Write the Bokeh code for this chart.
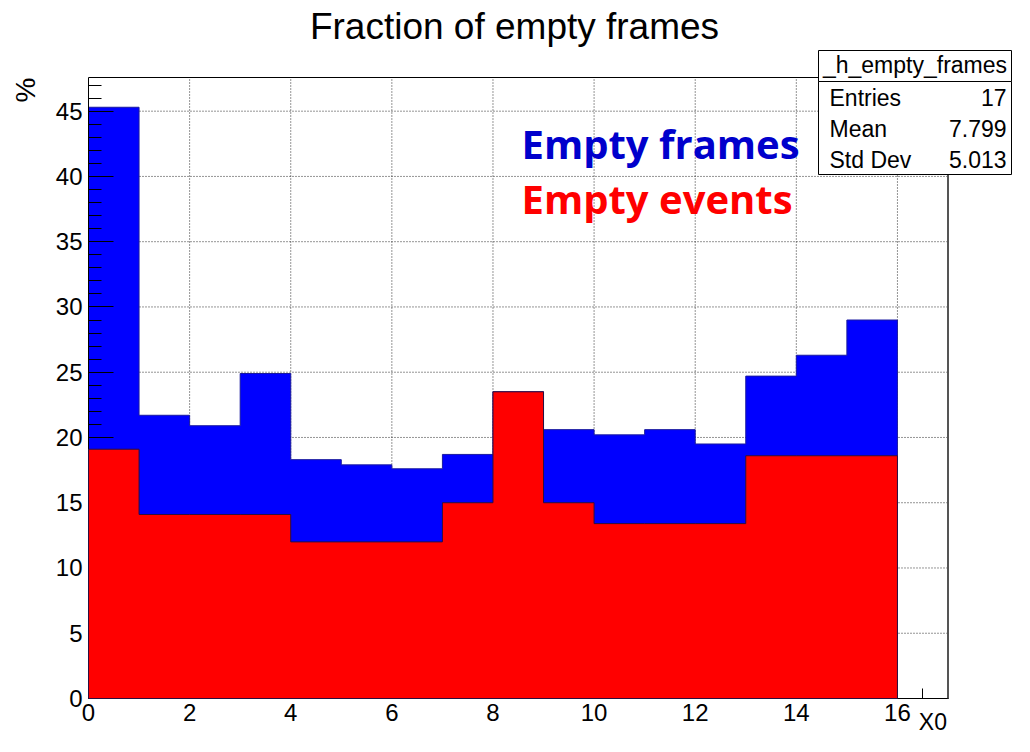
from bokeh.plotting import figure
from bokeh.models import SingleIntervalTicker, Label, BoxAnnotation, Range1d, Title
from bokeh.embed import file_html
from bokeh.resources import INLINE

# ---------------- data ----------------
bin_edges = list(range(0, 18))
empty_frames = [45.3, 21.7, 20.9, 24.9, 18.3, 17.9, 17.6, 18.7, 23.5,
                20.6, 20.2, 20.6, 19.5, 24.7, 26.3, 29.0, 0.0]
empty_events = [19.1, 14.1, 14.1, 14.1, 12.0, 12.0, 12.0, 15.0, 23.5,
                15.0, 13.4, 13.4, 13.4, 18.6, 18.6, 18.6, 0.0]
x_major_ticks = list(range(0, 17, 2))
y_major_ticks = list(range(0, 46, 5))
x_axis_max = 17.0
y_axis_max = 47.58
title_text = "Fraction of empty frames"
x_title = "X0"
y_title = "%"
hist_name = "_h_empty_frames"
stat_names = ["Entries", "Mean", "Std Dev"]
stat_values = ["17", "7.799", "5.013"]
legend_texts = ["Empty frames", "Empty events"]
legend_colors = ["#0000cc", "#ff0000"]

# ---------------- layout (pixels) ----------------
W, H = 1014, 736
FL, FB = 88, 698            # left / bottom of plotting frame on the canvas
ROOT_R, ROOT_T = 947.5, 77  # right / top of the histogram box on the canvas
FONT = "Liberation Sans"


def rx(px):
    return px - FL


def ly(baseline_py, size):
    # screen-unit y (from frame bottom) for a label whose baseline sits at baseline_py
    return FB - (baseline_py - 0.36 * size)


x_end = x_axis_max * (W - FL) / (ROOT_R - FL)
y_end = y_axis_max * FB / (FB - ROOT_T)

p = figure(width=W, height=H, output_backend="svg", toolbar_location=None,
           x_range=Range1d(0, x_end), y_range=Range1d(0, y_end),
           min_border_left=FL, min_border_right=0,
           min_border_top=0, min_border_bottom=H - FB)
p.title.visible = False
p.background_fill_color = "white"
p.border_fill_color = "white"
p.outline_line_color = None
p.xgrid.visible = False
p.ygrid.visible = False

# dotted grid (under the histograms)
gv = p.segment(x0=x_major_ticks, y0=0, x1=x_major_ticks, y1=y_axis_max,
               line_color="#2a2a2a", line_dash="1 2", line_width=1)
gh = p.segment(x0=0, y0=y_major_ticks, x1=x_axis_max, y1=y_major_ticks,
               line_color="#2a2a2a", line_dash="1 2", line_width=1)
gv.level = "underlay"
gh.level = "underlay"


def outline(edges, vals):
    xs, ys = [edges[0]], [0.0]
    for i, v in enumerate(vals):
        xs += [edges[i], edges[i + 1]]
        ys += [v, v]
    xs.append(edges[-1])
    ys.append(0.0)
    return xs, ys


# blue histogram
bx, by = outline(bin_edges, empty_frames)
p.patch(bx, by, fill_color="#0000ff", line_color="#1a1aa0", line_width=1)

# histogram box border
p.add_layout(BoxAnnotation(left=0, right=x_axis_max, bottom=0, top=y_axis_max,
                           fill_color=None, fill_alpha=0, line_color="black",
                           line_alpha=1.0, line_width=1))
p.add_layout(BoxAnnotation(left=x_axis_max, right=x_axis_max, bottom=0, top=y_axis_max,
                           fill_color=None, fill_alpha=0, line_color="#555555",
                           line_alpha=1.0, line_width=2))

# red histogram (drawn above the axes, like the reference)
rxs, rys = outline(bin_edges[:-1], empty_events[:-1])
rp = p.patch(rxs, rys, fill_color="#ff0000", line_color="#2a1040", line_width=1)
rp.level = "overlay"

# axes
p.xaxis.ticker = SingleIntervalTicker(interval=2, num_minor_ticks=4)
p.yaxis.ticker = SingleIntervalTicker(interval=5, num_minor_ticks=5)
p.xaxis.bounds = (0, x_axis_max)
p.yaxis.bounds = (0, y_axis_max)
for ax in (p.xaxis, p.yaxis):
    ax.axis_line_color = "black"
    ax.major_tick_line_color = "black"
    ax.minor_tick_line_color = "black"
    ax.major_tick_out = 0
    ax.minor_tick_out = 0
    ax.major_label_text_font = FONT
    ax.major_label_text_font_size = "24px"
    ax.major_label_text_color = "black"
p.xaxis.major_tick_in = 19
p.xaxis.minor_tick_in = 10
p.yaxis.major_tick_in = 25
p.yaxis.minor_tick_in = 13
p.xaxis.major_label_standoff = 5
p.yaxis.major_label_standoff = 6

# axis titles (side panels)
p.add_layout(Title(text=y_title, align="right", vertical_align="top",
                   text_font=FONT, text_font_size="28px",
                   text_font_style="normal", text_color="black",
                   standoff=19, offset=ROOT_T), "left")
p.add_layout(Title(text=x_title, align="right", vertical_align="top",
                   text_font=FONT, text_font_size="23px",
                   text_font_style="normal", text_color="black",
                   standoff=-30, offset=(W - ROOT_R) + 1), "below")

# main title
p.add_layout(Label(x=rx(514), y=ly(39, 37), x_units="screen", y_units="screen",
                   text=title_text, text_font=FONT, text_font_size="37px",
                   text_align="center", text_baseline="alphabetic", text_color="black"))

# stats box
bl, br = rx(818), rx(1011)
btop, bsep, bbot = FB - 50, FB - 81, FB - 174
for t, b in ((btop, bsep), (bsep, bbot)):
    p.add_layout(BoxAnnotation(left=bl, right=br, top=t, bottom=b,
                               left_units="screen", right_units="screen",
                               top_units="screen", bottom_units="screen",
                               fill_color="white", fill_alpha=1.0,
                               line_color="black", line_alpha=1.0, line_width=1))
p.add_layout(Label(x=(bl + br) / 2, y=ly(72.3, 23), x_units="screen", y_units="screen",
                   text=hist_name, text_font=FONT, text_font_size="23px",
                   text_align="center", text_baseline="alphabetic", text_color="black"))
row_y = [105.7, 136.7, 167.7]
for name, val, yy in zip(stat_names, stat_values, row_y):
    p.add_layout(Label(x=bl + 11, y=ly(yy, 23), x_units="screen", y_units="screen",
                       text=name, text_font=FONT, text_font_size="23px",
                       text_align="left", text_baseline="alphabetic", text_color="black"))
    p.add_layout(Label(x=br - 5, y=ly(yy, 23), x_units="screen", y_units="screen",
                       text=val, text_font=FONT, text_font_size="23px",
                       text_align="right", text_baseline="alphabetic", text_color="black"))

# big coloured annotations
for txt, col, yy in zip(legend_texts, legend_colors, [157.5, 212.5]):
    p.add_layout(Label(x=rx(521), y=ly(yy, 40), x_units="screen", y_units="screen",
                       text=txt, text_font="Open Sans", text_font_style="bold",
                       text_font_size="40px", text_color=col,
                       text_align="left", text_baseline="alphabetic"))

open("out.html", "w").write(file_html(p, INLINE))
